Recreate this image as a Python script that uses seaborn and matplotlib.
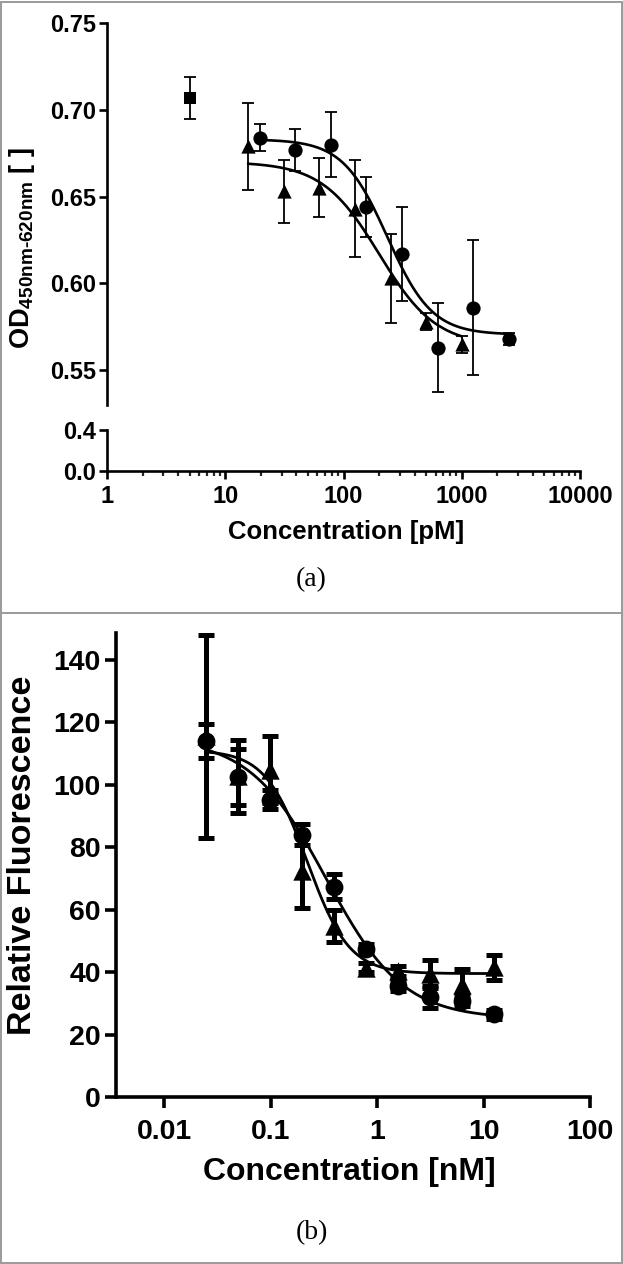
import numpy as np
import pandas as pd
import seaborn as sns
import matplotlib.pyplot as plt
from matplotlib.lines import Line2D
from matplotlib.patches import Rectangle
from matplotlib.ticker import FixedLocator, FixedFormatter, NullFormatter, LogLocator

# ---- panel (a): OD vs concentration [pM]
a_sq_conc = [5.0]
a_sq_od = [0.707]
a_sq_sd = [0.012]

a_circ_conc = [19.5, 39, 78, 156, 312, 625, 1250, 2500]
a_circ_od = [0.684, 0.677, 0.680, 0.644, 0.617, 0.563, 0.586, 0.568]
a_circ_sd = [0.008, 0.012, 0.0185, 0.0175, 0.027, 0.0255, 0.039, 0.0035]

a_tri_conc = [15.6, 31.2, 62.5, 125, 250, 500, 1000]
a_tri_od = [0.679, 0.653, 0.655, 0.643, 0.603, 0.578, 0.565]
a_tri_sd = [0.025, 0.018, 0.017, 0.028, 0.0255, 0.005, 0.005]

# fitted curves (4PL), params: top, bottom, EC50, hill
a_circ_fit = [0.683, 0.5705, 235, 2.3]
a_tri_fit = [0.670, 0.564, 200, 1.8]

# ---- panel (b): relative fluorescence vs concentration [nM]
b_conc = [0.0244, 0.0488, 0.0977, 0.195, 0.39, 0.78, 1.56, 3.125, 6.25, 12.5]
b_circ_rf = [114, 102.3, 95.2, 84, 67.3, 47.5, 35.5, 32, 30.7, 26.5]
b_circ_sd = [5.5, 9, 3, 3.5, 4, 1.5, 1.5, 3.5, 1.5, 1.5]
b_tri_rf = [115.5, 102.7, 104.8, 72.3, 54.7, 41.4, 40.3, 39.5, 36, 41.5]
b_tri_sd = [32.5, 11.7, 10.6, 11.7, 5, 1.5, 1.5, 4.5, 5, 4]

b_circ_fit = [115, 25, 0.33, 1.2]
b_tri_fit = [111, 39.5, 0.22, 2.2]


def four_pl(conc, top, bottom, ec50, hill):
    return bottom + (top - bottom) / (1 + (conc / ec50) ** hill)


def fit_frame(conc, params):
    xs = np.geomspace(min(conc), max(conc), 300)
    return pd.DataFrame({'conc': xs, 'val': four_pl(xs, *params)})


sns.set_theme(style='ticks')
plt.rcParams['font.family'] = ['Liberation Sans', 'DejaVu Sans']
plt.rcParams['font.weight'] = 'bold'
plt.rcParams['text.color'] = 'black'
plt.rcParams['axes.edgecolor'] = 'black'
plt.rcParams['mathtext.fontset'] = 'custom'
plt.rcParams['mathtext.rm'] = 'Liberation Sans:bold'
plt.rcParams['mathtext.it'] = 'Liberation Sans:bold'
plt.rcParams['mathtext.default'] = 'rm'

W, H = 623, 1264
fig = plt.figure(figsize=(W / 100, H / 100), dpi=100)


def px_axes(left, top, right, bottom):
    return fig.add_axes([left / W, 1 - bottom / H, (right - left) / W, (bottom - top) / H])


# ---------------- panel (a) ----------------
ax_top = px_axes(107, 23, 580, 405)
ax_low = px_axes(107, 430, 580, 471)

for ax in (ax_top, ax_low):
    ax.set_xscale('log')
    ax.set_xlim(1, 10000)
    ax.set_facecolor('white')
    for side in ('top', 'right'):
        ax.spines[side].set_visible(False)
    ax.spines['left'].set_linewidth(1.9)
    ax.spines['bottom'].set_linewidth(1.9)
    ax.tick_params(axis='both', colors='black', width=1.9, length=6, labelsize=17, pad=2)

ax_top.set_ylim(0.53, 0.75)
ax_top.spines['bottom'].set_visible(False)
ax_top.set_yticks([0.55, 0.60, 0.65, 0.70, 0.75])
ax_top.set_yticklabels(['0.55', '0.60', '0.65', '0.70', '0.75'])
ax_top.tick_params(axis='x', which='both', bottom=False, labelbottom=False)

ax_low.set_ylim(0, 0.4)
ax_low.set_yticks([0.0, 0.4])
ax_low.set_yticklabels(['0.0', '0.4'])
ax_low.xaxis.set_major_locator(FixedLocator([1, 10, 100, 1000, 10000]))
ax_low.xaxis.set_major_formatter(FixedFormatter(['1', '10', '100', '1000', '10000']))
ax_low.xaxis.set_minor_locator(LogLocator(base=10, subs=np.arange(2, 10), numticks=20))
ax_low.xaxis.set_minor_formatter(NullFormatter())
ax_low.tick_params(axis='x', which='major', length=6, pad=4)
ax_low.tick_params(axis='x', which='minor', width=1.6, length=3.5)

for conc, params in ((a_circ_conc, a_circ_fit), (a_tri_conc, a_tri_fit)):
    sns.lineplot(data=fit_frame(conc, params), x='conc', y='val', ax=ax_top,
                 color='black', linewidth=1.9, estimator=None, zorder=2)

err_a = dict(fmt='none', ecolor='black', elinewidth=1.3, capsize=4.5, capthick=1.3, zorder=3)
ax_top.errorbar(a_sq_conc, a_sq_od, yerr=a_sq_sd, **err_a)
ax_top.errorbar(a_circ_conc, a_circ_od, yerr=a_circ_sd, **err_a)
ax_top.errorbar(a_tri_conc, a_tri_od, yerr=a_tri_sd, **err_a)

sns.scatterplot(x=a_sq_conc, y=a_sq_od, marker='s', s=85, color='black', linewidth=0, ax=ax_top, zorder=4)
sns.scatterplot(x=a_circ_conc, y=a_circ_od, marker='o', s=105, color='black', linewidth=0, ax=ax_top, zorder=4)
sns.scatterplot(x=a_tri_conc, y=a_tri_od, marker='^', s=105, color='black', linewidth=0, ax=ax_top, zorder=4)
ax_top.set_xlabel('')
ax_top.set_ylabel('')
ax_low.set_xlabel('')
ax_low.set_ylabel('')

fig.text(22 / W, 1 - 248 / H, r'OD$_{450nm\text{-}620nm}$ [ ]', rotation=90, ha='center', va='center',
         fontsize=19.5, fontweight='bold', color='black')
fig.text(346 / W, 1 - 532 / H, 'Concentration [pM]', ha='center', va='center',
         fontsize=18.5, fontweight='bold', color='black')
fig.text(0.5, 1 - 580 / H, '(a)', ha='center', va='center', fontsize=20,
         family='Liberation Serif', fontweight='normal', color='black')

# ---------------- panel (b) ----------------
ax_b = px_axes(116, 633, 590, 1097)
ax_b.set_xscale('log')
ax_b.set_xlim(0.0035, 100)
ax_b.set_ylim(0, 148.5)
for side in ('top', 'right'):
    ax_b.spines[side].set_visible(False)
ax_b.spines['left'].set_linewidth(2.6)
ax_b.spines['bottom'].set_linewidth(2.6)
ax_b.set_yticks(np.arange(0, 141, 20))
ax_b.xaxis.set_major_locator(FixedLocator([0.01, 0.1, 1, 10, 100]))
ax_b.xaxis.set_major_formatter(FixedFormatter(['0.01', '0.1', '1', '10', '100']))
ax_b.xaxis.set_minor_locator(FixedLocator([]))
ax_b.tick_params(axis='both', colors='black', width=2.6, length=8, labelsize=20.5)
ax_b.tick_params(axis='x', pad=8)
ax_b.tick_params(axis='y', pad=3)

for params in (b_circ_fit, b_tri_fit):
    sns.lineplot(data=fit_frame(b_conc, params), x='conc', y='val', ax=ax_b,
                 color='black', linewidth=2.0, estimator=None, zorder=2)

err_b = dict(fmt='none', ecolor='black', elinewidth=3.6, capsize=5.5, capthick=3.6, zorder=3)
ax_b.errorbar(b_conc, b_tri_rf, yerr=b_tri_sd, **err_b)
ax_b.errorbar(b_conc, b_circ_rf, yerr=b_circ_sd, **err_b)
sns.scatterplot(x=b_conc, y=b_tri_rf, marker='^', s=175, color='black', linewidth=0, ax=ax_b, zorder=4)
sns.scatterplot(x=b_conc, y=b_circ_rf, marker='o', s=165, color='black', linewidth=0, ax=ax_b, zorder=4)
ax_b.set_xlabel('')
ax_b.set_ylabel('')

fig.text(23 / W, 1 - 855 / H, 'Relative Fluorescence', rotation=90, ha='center', va='center',
         fontsize=24.5, fontweight='bold', color='black')
fig.text(349 / W, 1 - 1172 / H, 'Concentration [nM]', ha='center', va='center',
         fontsize=23, fontweight='bold', color='black')
fig.text(0.5, 1 - 1233 / H, '(b)', ha='center', va='center', fontsize=20,
         family='Liberation Serif', fontweight='normal', color='black')

# panel frames
fig.add_artist(Rectangle((1 / W, 1 / H), 620.5 / W, 1 - 2.5 / H, transform=fig.transFigure,
                         fill=False, edgecolor='#9a9a9a', linewidth=1.4))
fig.add_artist(Line2D([1 / W, 621.5 / W], [1 - 613 / H, 1 - 613 / H], transform=fig.transFigure,
                      color='#9a9a9a', linewidth=1.4))

fig.savefig('out.png', dpi=100, facecolor='white')
